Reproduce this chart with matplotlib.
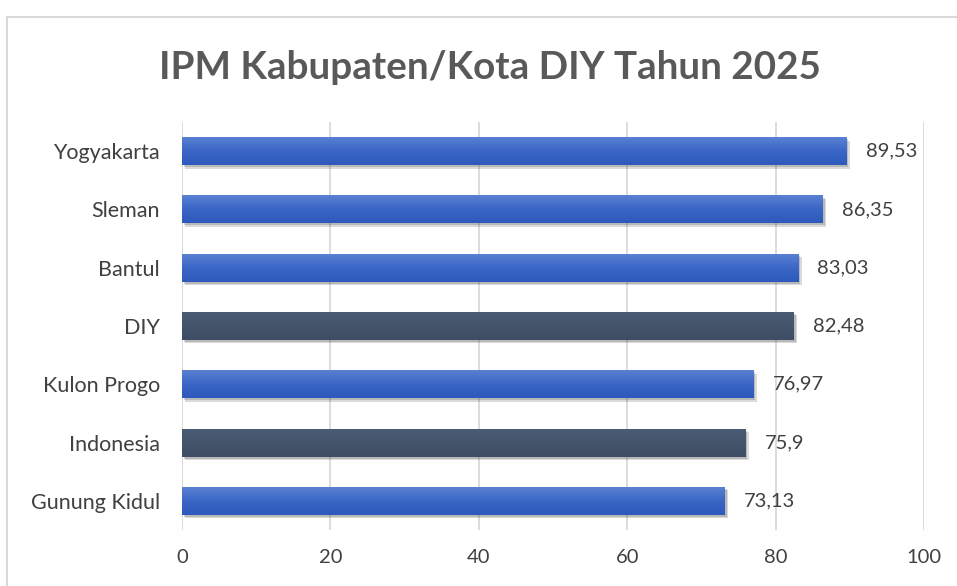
import matplotlib
matplotlib.use("Agg")
from matplotlib import pyplot as plt
from matplotlib import patheffects as pe
from matplotlib.colors import LinearSegmentedColormap
from matplotlib.lines import Line2D
import numpy as np

# data (top to bottom as shown)
regions = ["Yogyakarta", "Sleman", "Bantul", "DIY", "Kulon Progo", "Indonesia", "Gunung Kidul"]
ipm = [89.53, 86.35, 83.03, 82.48, 76.97, 75.9, 73.13]
labels = ["89,53", "86,35", "83,03", "82,48", "76,97", "75,9", "73,13"]
highlight = ["DIY", "Indonesia"]

plt.rcParams["font.family"] = ["Lato", "DejaVu Sans"]

fig = plt.figure(figsize=(9.57, 5.86), dpi=100)
ax = fig.add_axes([0.1902, 0.0956, 0.7753, 0.6962])

blue_grad = LinearSegmentedColormap.from_list("bg", ["#5a80d2", "#3a66c6", "#2c59bb"])
dark_grad = LinearSegmentedColormap.from_list("dg", ["#4a5b74", "#44546a", "#3e4d63"])
grad = np.linspace(0, 1, 64).reshape(-1, 1)

ypos = np.arange(len(regions))[::-1]
shadow = [pe.SimplePatchShadow(offset=(2.5, -2.5), alpha=0.18, shadow_rgbFace="#333333"),
          pe.SimplePatchShadow(offset=(1.5, -1.5), alpha=0.2, shadow_rgbFace="#333333"),
          pe.Normal()]
bars = ax.barh(ypos, ipm, height=0.48, zorder=3, linewidth=0, path_effects=shadow)

for b, name, val, lab in zip(bars, regions, ipm, labels):
    cmap = dark_grad if name in highlight else blue_grad
    b.set_facecolor(cmap(0.5))
    y0 = b.get_y()
    h = b.get_height()
    im = ax.imshow(grad, cmap=cmap, aspect="auto", zorder=4,
                   extent=[0, val, y0, y0 + h], origin="upper")
    im.set_clip_path(b)
    ax.text(val + 2.6, y0 + h / 2, lab, va="center", ha="left",
            fontsize=14.5, color="#404040", zorder=5)

ax.set_xlim(0, 100)
ax.set_ylim(-0.5, len(regions) - 0.5)
ax.set_xticks([0, 20, 40, 60, 80, 100])
ax.set_yticks(ypos)
ax.set_yticklabels(regions)
ax.tick_params(axis="both", length=0, labelcolor="#404040")
ax.tick_params(axis="x", pad=14, labelsize=14.5)
ax.tick_params(axis="y", pad=16, labelsize=15.5)
ax.grid(axis="x", color="#d9d9d9", linewidth=1.3, zorder=0)
ax.set_axisbelow(True)
for s in ax.spines.values():
    s.set_visible(False)

fig.text(0.512, 0.885, "IPM Kabupaten/Kota DIY Tahun 2025", ha="center", va="center",
         fontsize=27.8, fontweight="bold", color="#595959")

# chart frame (left and top edges visible)
fig.add_artist(Line2D([6.5 / 957, 6.5 / 957], [0, 1 - 16.5 / 586],
                      transform=fig.transFigure, color="#d9d9d9", linewidth=1.5))
fig.add_artist(Line2D([6.5 / 957, 1], [1 - 16.5 / 586, 1 - 16.5 / 586],
                      transform=fig.transFigure, color="#d9d9d9", linewidth=1.5))

fig.savefig("out.png", dpi=100, facecolor="white")
